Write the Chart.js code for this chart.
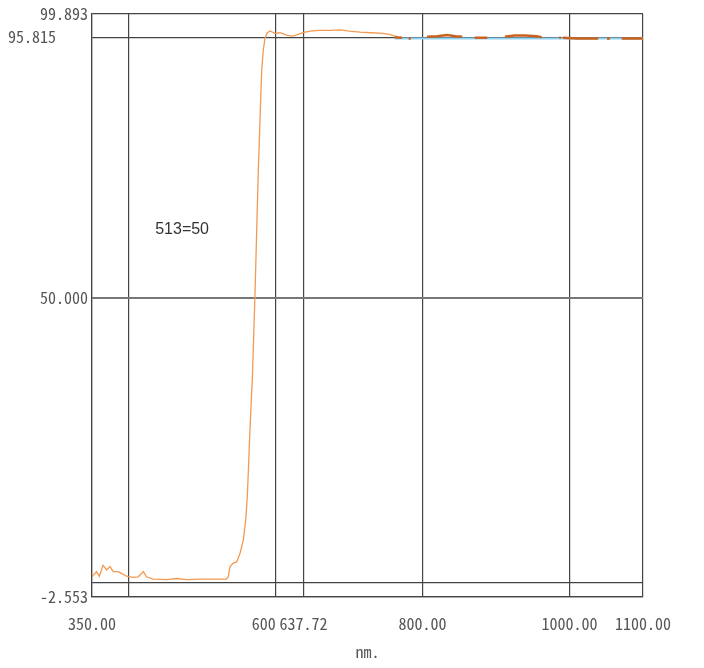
<!DOCTYPE html>
<html>
<head>
  <title>Transmission Spectrum</title>
  <style>
    body {
      margin: 0;
      padding: 0;
      background-color: #ffffff;
    }

    .chart-box {
      width: 704px;
      height: 668px;
      position: relative;
    }
  </style>
  <script src="https://cdn.jsdelivr.net/npm/chart.js"></script>
</head>
<body>
<div class="chart-box">
  <canvas id="spectrumChart"></canvas>
</div>

<script>
  // Main scan (orange), wavelength in nm and transmission in %
  const scanNm = [350, 352, 356, 360, 365, 370, 374.5, 379, 386, 390, 397, 406, 413, 420, 424, 433,
    452, 465, 479, 497, 515, 533, 535.5, 537.8, 542.3, 547, 551.4, 556, 559.2, 561.4, 562.7, 564.1,
    566, 568.2, 571.7, 574.2, 576.4, 578.7, 581, 583.2, 585.5, 588.6, 592.3, 599, 606, 615, 622,
    628, 637, 647, 660, 675, 688, 700, 715, 730, 746, 755, 760, 765];
  const scanT = [1.0, 1.3, 1.9, 1.1, 3.0, 2.2, 2.8, 1.9, 1.9, 1.6, 1.1, 0.9, 1.0, 1.9, 1.0, 0.6,
    0.5, 0.7, 0.5, 0.6, 0.6, 0.6, 1.0, 2.8, 3.4, 3.6, 5.1, 7.5, 10.9, 15.1, 19.2, 23.9,
    29.7, 35.6, 50.0, 61.9, 72.5, 81.3, 90.0, 93.6, 95.6, 96.6, 96.9, 96.5, 96.6, 96.2, 96.0,
    96.2, 96.6, 96.9, 97.0, 97.0, 97.1, 96.9, 96.7, 96.6, 96.5, 96.3, 96.1, 95.9];

  // Broken tail of the scan (brown dashes), null = gap
  const tailNm = [762, 772, 776, 781, 784, 795, 806, 820, 833, 845, 854, 862, 871, 888, 900, 912,
    925, 940, 955, 962, 975, 986, 988, 989.5, 991, 1010, 1025, 1039, 1045, 1051, 1055, 1063, 1071,
    1085, 1100];
  const tailT = [95.8, 95.7, null, 95.6, 95.6, null, 95.9, 96.0, 96.2, 96.0, 95.9, null, 95.7, 95.7,
    null, 95.9, 96.1, 96.1, 96.0, 95.8, null, 95.7, 95.7, null, 95.7, 95.6, 95.6, 95.6, null, 95.6,
    95.6, null, 95.6, 95.6, 95.6];

  // Reference level (light blue)
  const refNm = [762, 1100];
  const refT = [95.6, 95.6];

  // Axis ticks and their printed labels
  const xTicks = [350, 400, 600, 637.72, 800, 1000, 1100];
  const xTickLabels = ['350.00', '', '600.00', '637.72', '800.00', '1000.00', '1100.00'];
  const yTicks = [-2.553, 0, 50, 95.815, 99.893];
  const yTickLabels = ['-2.553', '', '50.000', '95.815    ', '99.893'];

  const note = { text: '513=50', nm: 436, t: 62 };

  function toPoints(xs, ys) {
    return xs.map((x, i) => ({ x: x, y: ys[i] }));
  }

  const labelFont = { family: '"Noto Sans Mono CJK SC", "Liberation Serif"', size: 16 };

  // Draw the little note inside the plot
  const notePlugin = {
    id: 'notePlugin',
    afterDatasetsDraw(chart) {
      const ctx = chart.ctx;
      const px = chart.scales.x.getPixelForValue(note.nm);
      const py = chart.scales.y.getPixelForValue(note.t);
      ctx.save();
      ctx.font = '16px "Liberation Sans"';
      ctx.fillStyle = '#333';
      ctx.textAlign = 'left';
      ctx.textBaseline = 'middle';
      ctx.fillText(note.text, px, py);
      ctx.restore();
    }
  };

  const spectrumCtx = document.getElementById('spectrumChart').getContext('2d');

  const spectrumChart = new Chart(spectrumCtx, {
    type: 'line',
    data: {
      datasets: [
        {
          label: 'tail',
          data: toPoints(tailNm, tailT),
          borderColor: '#c9631f',
          borderWidth: 2.5,
          pointRadius: 0,
          spanGaps: false
        },
        {
          label: 'reference',
          data: toPoints(refNm, refT),
          borderColor: '#8fd3f5',
          borderWidth: 2,
          pointRadius: 0
        },
        {
          label: 'scan',
          data: toPoints(scanNm, scanT),
          borderColor: '#f39a52',
          borderWidth: 1.3,
          pointRadius: 0
        }
      ]
    },
    options: {
      responsive: true,
      maintainAspectRatio: false,
      animation: false,
      layout: {
        padding: { top: 14, right: 61, left: 0, bottom: 0 }
      },
      plugins: {
        legend: { display: false },
        tooltip: { enabled: false }
      },
      scales: {
        x: {
          type: 'linear',
          min: 350,
          max: 1100,
          afterBuildTicks: scale => {
            scale.ticks = xTicks.map(v => ({ value: v }));
          },
          afterFit: scale => {
            scale.height = 71;
          },
          ticks: {
            autoSkip: false,
            maxRotation: 0,
            padding: 17,
            color: '#555',
            font: labelFont,
            showLabelBackdrop: true,
            backdropColor: '#ffffff',
            backdropPadding: { top: 1, bottom: 1, left: 1, right: 0 },
            callback: (value, index) => xTickLabels[index]
          },
          grid: {
            color: '#444',
            lineWidth: 1.2,
            drawTicks: false
          },
          border: { color: '#444', width: 1.2 },
          title: {
            display: true,
            text: 'nm.',
            color: '#555',
            font: labelFont,
            padding: { top: 0, bottom: 6 }
          }
        },
        y: {
          min: -2.553,
          max: 99.893,
          afterBuildTicks: scale => {
            scale.ticks = yTicks.map(v => ({ value: v }));
          },
          afterFit: scale => {
            scale.width = 92;
          },
          ticks: {
            padding: 4,
            color: '#555',
            font: labelFont,
            callback: (value, index) => yTickLabels[index]
          },
          grid: {
            color: ctx => (ctx.tick && ctx.tick.value === 50 ? '#777' : '#444'),
            lineWidth: ctx => (ctx.tick && ctx.tick.value === 50 ? 2 : 1.2),
            drawTicks: false
          },
          border: { color: '#444', width: 1.2 }
        }
      }
    },
    plugins: [notePlugin]
  });
</script>

</body>
</html>
